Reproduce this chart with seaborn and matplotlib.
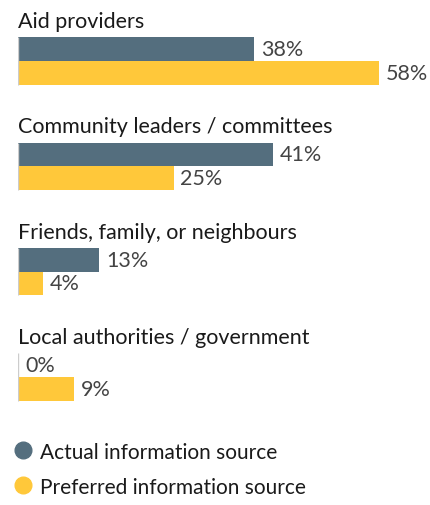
import pandas as pd
import matplotlib
matplotlib.use("Agg")
import matplotlib.pyplot as plt
import seaborn as sns
from matplotlib.lines import Line2D

# data
sources = ["Aid providers", "Community leaders / committees",
           "Friends, family, or neighbours", "Local authorities / government"]
actual = [38, 41, 13, 0]
preferred = [58, 25, 4, 9]
series_names = ["Actual information source", "Preferred information source"]

dark_blue = "#546e7e"
yellow = "#ffc83a"

sns.set_theme(style="white")
plt.rcParams["font.family"] = ["Lato", "DejaVu Sans"]

df = pd.DataFrame({
    "source": sources * 2,
    "share": actual + preferred,
    "series": [series_names[0]] * 4 + [series_names[1]] * 4,
})

fig = plt.figure(figsize=(4.30, 5.06), dpi=100)
ax = fig.add_axes([18 / 430, 0, 1 - 18 / 430, 1])

bar_w = 0.45
sns.barplot(data=df, y="source", x="share", hue="series", orient="h",
            palette=[dark_blue, yellow], width=bar_w, gap=0, dodge=True,
            legend=False, ax=ax, saturation=1, linewidth=0)

ax.set_xlim(0, 412 / 6.22)
ax.set_ylim(4.217, -0.589)
ax.axis("off")

# labels on the bars
for container in ax.containers:
    ax.bar_label(container, labels=[f"{v:.0f}%" for v in container.datavalues],
                 padding=5, fontsize=15.5, color="#444444")

for i, name in enumerate(sources):
    ax.text(0, i - 0.38, name, fontsize=15.5, color="#1a1a1a",
            ha="left", va="center")
    ax.vlines(0, i - bar_w / 2, i + bar_w / 2, color="#cccccc", lw=1)

handles = [Line2D([], [], marker="o", ls="", markersize=12, color=c)
           for c in (dark_blue, yellow)]
fig.legend(handles, series_names, loc="lower left", bbox_to_anchor=(0.005, 0.0),
           frameon=False, fontsize=15, handletextpad=0.2, labelspacing=0.72,
           borderaxespad=0, handlelength=1.2, labelcolor="#1a1a1a")

fig.savefig("out.png", dpi=100)
